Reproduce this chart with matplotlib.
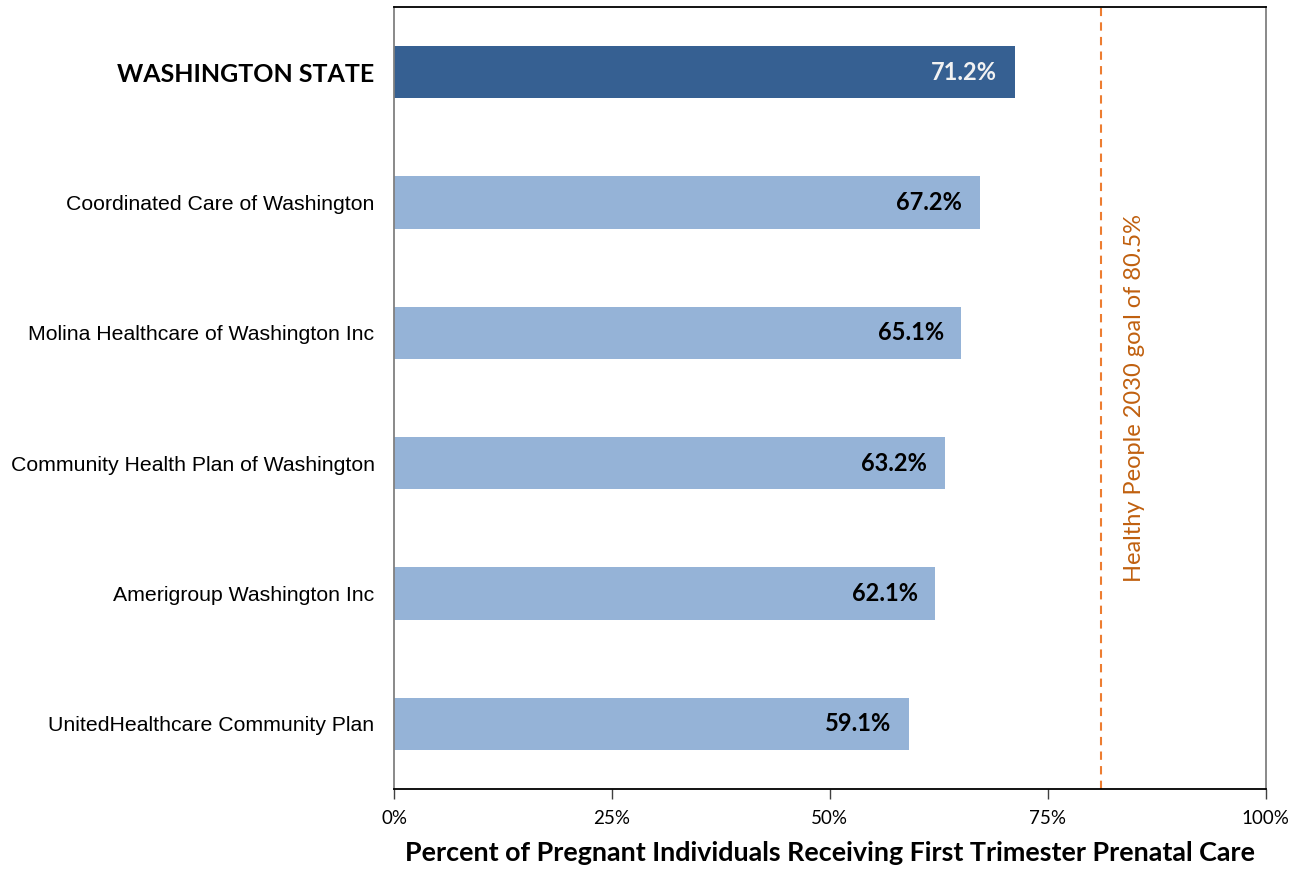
import matplotlib
matplotlib.use("Agg")
import matplotlib.pyplot as plt

categories = [
    "WASHINGTON STATE",
    "Coordinated Care of Washington",
    "Molina Healthcare of Washington Inc",
    "Community Health Plan of Washington",
    "Amerigroup Washington Inc",
    "UnitedHealthcare Community Plan",
]
values = [71.2, 67.2, 65.1, 63.2, 62.1, 59.1]
goal_label = "Healthy People 2030 goal of 80.5%"
goal_line_x = 81.1  # position of dashed line as drawn in the picture
xticks = [0, 25, 50, 75, 100]
xtick_labels = ["0%", "25%", "50%", "75%", "100%"]
xlabel = "Percent of Pregnant Individuals Receiving First Trimester Prenatal Care"

dark = "#366092"
light = "#95B3D7"
orange = "#ED7D31"
goal_text_color = "#C0600F"

fig = plt.figure(figsize=(13.01, 8.69), dpi=100)
ax = fig.add_axes([394 / 1301, 80 / 869, 871.5 / 1301, 782 / 869])

ypos = list(range(len(categories)))
colors = [dark] + [light] * (len(categories) - 1)
ax.barh(ypos, values, height=0.4, color=colors, zorder=2)

ax.set_ylim(len(categories) - 0.5, -0.5)
ax.set_xlim(0, 100)

for i, v in enumerate(values):
    ax.text(v - 2.0, i, f"{v:.1f}%", ha="right", va="center",
            fontsize=17, fontweight="bold", family="Lato",
            color="#F2F2F2" if i == 0 else "black", zorder=3)

ax.axvline(goal_line_x, color=orange, linestyle=(0, (4, 3)), linewidth=1.5, zorder=1)
ax.text(85.0, 2.5, goal_label, rotation=90, ha="center", va="center",
        fontsize=17, family="Lato", color=goal_text_color)

ax.set_yticks(ypos)
ax.set_yticklabels(categories)
ax.tick_params(axis="y", length=0, pad=14)
for i, lbl in enumerate(ax.get_yticklabels()):
    if i == 0:
        lbl.set_fontfamily("Lato")
        lbl.set_fontweight("bold")
        lbl.set_fontsize(18)
    else:
        lbl.set_fontfamily("Liberation Sans")
        lbl.set_fontsize(15.3)

ax.set_xticks(xticks)
ax.set_xticklabels(xtick_labels, family="Lato", fontsize=13.5)
ax.tick_params(axis="x", direction="out", length=7, width=1, color="#404040", pad=8)

ax.set_xlabel(xlabel, family="Lato", fontweight="bold", fontsize=19.4, labelpad=10)

ax.spines["left"].set_color("#808080")
ax.spines["right"].set_color("#808080")
ax.spines["top"].set_color("black")
ax.spines["bottom"].set_color("black")
for s in ax.spines.values():
    s.set_linewidth(1.3)

fig.savefig("out.png", dpi=100)
